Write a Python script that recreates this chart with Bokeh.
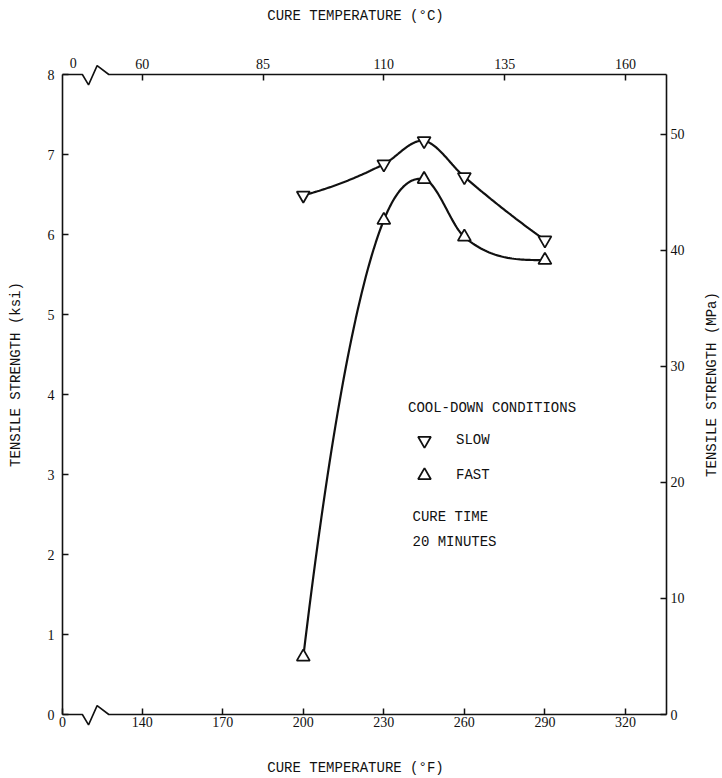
import numpy as np
from bokeh.plotting import figure
from bokeh.models import LinearAxis, Range1d, FixedTicker, Legend, LegendItem, Label
from bokeh.core.properties import value
from bokeh.embed import file_html
from bokeh.resources import INLINE

# ---------------- data ----------------
temp_f = [200, 230, 245, 260, 290]            # cure temperature, deg F
slow_ksi = [6.49, 6.88, 7.17, 6.72, 5.93]     # slow cool-down
fast_ksi = [0.72, 6.18, 6.69, 5.97, 5.68]     # fast cool-down

f_ticks = [140, 170, 200, 230, 260, 290, 320]
c_ticks = [60, 85, 110, 135, 160]
ksi_ticks = [0, 1, 2, 3, 4, 5, 6, 7, 8]
mpa_ticks = [0, 10, 20, 30, 40, 50]

# ---------------- scales ----------------
X_START, X_END = 110.3, 335.3
Y_START, Y_END = 0.0, 8.0
KSI_TO_MPA = 6.894757

MONO = "Liberation Mono"
SERIF = "Liberation Serif"
INK = "#111111"


def smooth_curve(xs, ys, n=40):
    """Hermite curve through the given points (Bessel tangents, overshoot-limited)."""
    x = np.asarray(xs, float)
    y = np.asarray(ys, float)
    h = np.diff(x)
    d = np.diff(y) / h
    m = np.empty_like(y)
    m[1:-1] = (d[:-1] * h[1:] + d[1:] * h[:-1]) / (h[:-1] + h[1:])
    m[0] = d[0] - (d[1] - d[0]) * h[0] / (h[0] + h[1])
    m[-1] = d[-1] + (d[-1] - d[-2]) * h[-1] / (h[-2] + h[-1])
    if np.sign(m[0]) != np.sign(d[0]):
        m[0] = 0.0
    if np.sign(m[-1]) != np.sign(d[-1]):
        m[-1] = 0.0
    for i in range(len(d)):
        for j in (i, i + 1):
            if abs(d[i]) > 0 and np.sign(m[j]) == np.sign(d[i]) and abs(m[j]) > 3 * abs(d[i]):
                m[j] = 3 * d[i]
    ox, oy = [], []
    for i in range(len(h)):
        t = np.linspace(0, 1, n, endpoint=(i == len(h) - 1))
        h00 = 2 * t**3 - 3 * t**2 + 1
        h10 = t**3 - 2 * t**2 + t
        h01 = -2 * t**3 + 3 * t**2
        h11 = t**3 - t**2
        oy.append(h00 * y[i] + h10 * h[i] * m[i] + h01 * y[i + 1] + h11 * h[i] * m[i + 1])
        ox.append(x[i] + t * h[i])
    return np.concatenate(ox), np.concatenate(oy)


p = figure(width=722, height=778,
           x_range=Range1d(X_START, X_END), y_range=Range1d(Y_START, Y_END),
           output_backend="svg", toolbar_location=None,
           min_border_left=62, min_border_right=56,
           min_border_top=74, min_border_bottom=64)
p.background_fill_color = "white"
p.border_fill_color = "white"
p.outline_line_color = None
p.xgrid.visible = False
p.ygrid.visible = False

p.extra_x_ranges = {"c": Range1d((X_START - 32) / 1.8, (X_END - 32) / 1.8)}
p.extra_y_ranges = {"mpa": Range1d(Y_START * KSI_TO_MPA, Y_END * KSI_TO_MPA)}


def style_axis(ax, label_standoff, line=True):
    ax.major_label_text_font = SERIF
    ax.major_label_text_font_size = "14px"
    ax.major_label_text_color = INK
    ax.major_label_standoff = label_standoff
    ax.major_tick_in = 6
    ax.major_tick_out = 0
    ax.major_tick_line_width = 1.5
    ax.major_tick_line_color = INK
    ax.minor_tick_line_color = None
    if line:
        ax.axis_line_width = 1.6
        ax.axis_line_color = INK
    else:
        ax.axis_line_color = None


# bottom (deg F)
xb = p.xaxis[0]
xb.ticker = FixedTicker(ticks=[X_START] + f_ticks)
xb.major_label_overrides = {X_START: "0"}
style_axis(xb, 2, line=False)

# left (ksi)
yl = p.yaxis[0]
yl.ticker = FixedTicker(ticks=ksi_ticks)
style_axis(yl, 8)

# top (deg C)
xt = LinearAxis(x_range_name="c", ticker=FixedTicker(ticks=c_ticks))
style_axis(xt, 6, line=False)
p.add_layout(xt, "above")

# right (MPa)
yr = LinearAxis(y_range_name="mpa", ticker=FixedTicker(ticks=mpa_ticks))
style_axis(yr, 4)
p.add_layout(yr, "right")

# top/bottom frame lines with axis-break zigzag
BREAK_DX = [7.4, 9.7, 12.9, 17.25]
BREAK_DY = [0.0, -0.13, 0.11, 0.0]
for y0 in (Y_START, Y_END):
    bx = [X_START] + [X_START + d for d in BREAK_DX] + [X_END]
    by = [y0] + [y0 + d for d in BREAK_DY] + [y0]
    p.line(bx, by, line_color=INK, line_width=1.6, level="overlay")


def corner_text(x, y, text, font, dx, dy, angle=0.0):
    """Text outside the frame, anchored at a frame corner with pixel offsets."""
    p.text(x=[x], y=[y], text=[text], x_offset=dx, y_offset=dy, angle=angle,
           text_font=value(font), text_font_size=value("14px"), text_color=INK,
           text_align="center", text_baseline="middle", level="overlay")


# top-left "0" and axis titles
corner_text(X_START, Y_END, "0", SERIF, 10.7, -11.3)
corner_text(X_START, Y_START, "CURE TEMPERATURE (\u00b0C)", MONO, 293, -699)
corner_text(X_START, Y_START, "CURE TEMPERATURE (\u00b0F)", MONO, 293, 53)
corner_text(X_START, Y_START, "TENSILE STRENGTH (ksi)", MONO, -47, -340, angle=np.pi / 2)
corner_text(X_START, Y_START, "TENSILE STRENGTH (MPa)", MONO, 649, -330, angle=np.pi / 2)

# curves
sx, sy = smooth_curve(temp_f, slow_ksi)
fx, fy = smooth_curve(temp_f, fast_ksi)
p.line(sx, sy, line_color=INK, line_width=2.2)
p.line(fx, fy, line_color=INK, line_width=2.2)

r_slow = p.scatter(temp_f, slow_ksi, marker="inverted_triangle", size=13,
                   fill_color="white", line_color=INK, line_width=1.8)
r_fast = p.scatter(temp_f, fast_ksi, marker="triangle", size=13,
                   fill_color="white", line_color=INK, line_width=1.8)

legend = Legend(items=[LegendItem(label="SLOW", renderers=[r_slow]),
                       LegendItem(label="FAST", renderers=[r_fast])],
                title="COOL-DOWN CONDITIONS", location=(346, 223),
                glyph_width=32, glyph_height=32, label_standoff=16, spacing=3,
                padding=0, margin=0, title_standoff=8,
                border_line_color=None, background_fill_alpha=0)
legend.title_text_font = MONO
legend.title_text_font_size = "14px"
legend.title_text_font_style = "normal"
legend.title_text_color = INK
legend.label_text_font = MONO
legend.label_text_font_size = "14px"
legend.label_text_color = INK
p.add_layout(legend)

for txt, yy in (("CURE TIME", 198), ("20 MINUTES", 172.5)):
    p.add_layout(Label(x=350, y=yy, x_units="screen", y_units="screen", text=txt,
                       text_font=MONO, text_font_size="14px", text_color=INK,
                       text_align="left", text_baseline="middle"))

open("out.html", "w").write(file_html(p, INLINE))
